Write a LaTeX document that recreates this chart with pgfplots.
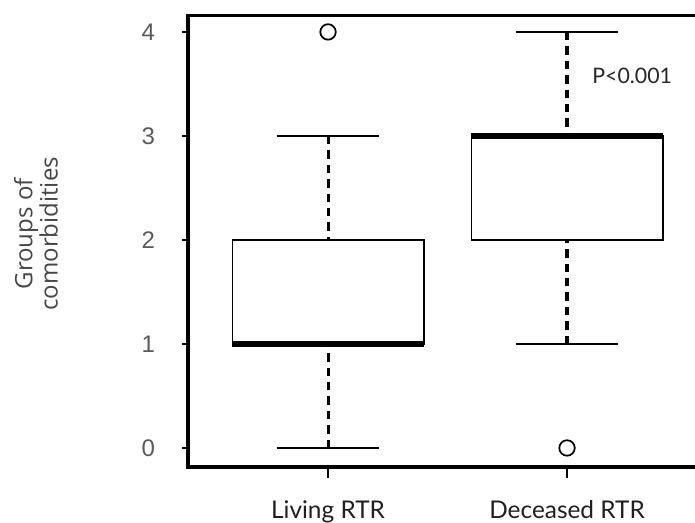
\documentclass[border=0pt]{standalone}
\usepackage{fontspec}
\setmainfont{Lato}
\newfontfamily\ticksf{Liberation Sans}
\newfontfamily\labsf{Open Sans}
\usepackage{pgfplots}
\pgfplotsset{compat=1.18}
\usepgfplotslibrary{statistics}
\definecolor{tickgray}{RGB}{90,90,90}
\definecolor{labgray}{RGB}{70,70,70}
\begin{document}
\begin{tikzpicture}
\begin{axis}[
  name=ax,
  scale only axis,
  width=389.3pt, height=338.3pt,
  xmin=-0.586, xmax=1.586,
  ymin=-0.183, ymax=4.154,
  axis line style={line width=2.3pt},
  tick align=outside,
  xtick pos=bottom, ytick pos=left,
  xtick={0,1}, xticklabels={Living RTR, Deceased RTR},
  ytick={0,1,2,3,4}, yticklabels={0,1,2,3,4},
  xtick style={line width=1.8pt, black, /pgfplots/major tick length=8pt},
  ytick style={line width=1.8pt, black, /pgfplots/major tick length=4.5pt},
  /pgf/number format/assume math mode=true,
  y tick label style={font=\ticksf\fontsize{18}{20}\selectfont, color=tickgray, anchor=east, xshift=-17pt},
  x tick label style={font=\fontsize{18.3}{21}\selectfont, color=black!88, anchor=base, yshift=-34.5pt},
  ylabel={Groups of\\comorbidities},
  ylabel style={at={(axis description cs:-0.293,0.517)}, anchor=center, align=center,
    font=\labsf\fontsize{18}{15.8}\selectfont, color=labgray},
  boxplot/draw direction=y,
  boxplot/box extend=0.8,
  boxplot/whisker extend=0.43,
  boxplot/every box/.style={line width=1.4pt},
  boxplot/every median/.style={line width=4.2pt},
  boxplot/draw/lower whisker/.code={%
    \draw[line width=2.3pt, dash pattern=on 6.3pt off 4.5pt]
      (boxplot box cs:\pgfplotsboxplotvalue{lower whisker},0.5) --
      (boxplot box cs:\pgfplotsboxplotvalue{lower quartile},0.5);
    \draw[line width=1.9pt]
      (boxplot whisker cs:\pgfplotsboxplotvalue{lower whisker},0) --
      (boxplot whisker cs:\pgfplotsboxplotvalue{lower whisker},1);
  },
  boxplot/draw/upper whisker/.code={%
    \draw[line width=2.3pt, dash pattern=on 6.3pt off 4.5pt]
      (boxplot box cs:\pgfplotsboxplotvalue{upper whisker},0.5) --
      (boxplot box cs:\pgfplotsboxplotvalue{upper quartile},0.5);
    \draw[line width=1.9pt]
      (boxplot whisker cs:\pgfplotsboxplotvalue{upper whisker},0) --
      (boxplot whisker cs:\pgfplotsboxplotvalue{upper whisker},1);
  },
]
\addplot[black, solid, line width=1.4pt, mark=o, mark size=5.8pt, mark options={solid, line width=1.3pt, black},
  boxplot prepared={draw position=0, lower whisker=0, lower quartile=1, median=1, upper quartile=2, upper whisker=3}]
  coordinates {(0,4)};
\addplot[black, solid, line width=1.4pt, mark=o, mark size=5.8pt, mark options={solid, line width=1.3pt, black},
  boxplot prepared={draw position=1, lower whisker=1, lower quartile=2, median=3, upper quartile=3, upper whisker=4}]
  coordinates {(1,0)};
\node[anchor=west, font=\fontsize{16}{18}\selectfont, color=black!85, inner sep=0pt] at (axis cs:1.105,3.58) {P<0.001};
\end{axis}
\pgfresetboundingbox
\path[use as bounding box] ([shift={(-141pt,-41.25pt)}]ax.south west) rectangle ([shift={(380.25pt,350.25pt)}]ax.south west);
\end{tikzpicture}
\end{document}
